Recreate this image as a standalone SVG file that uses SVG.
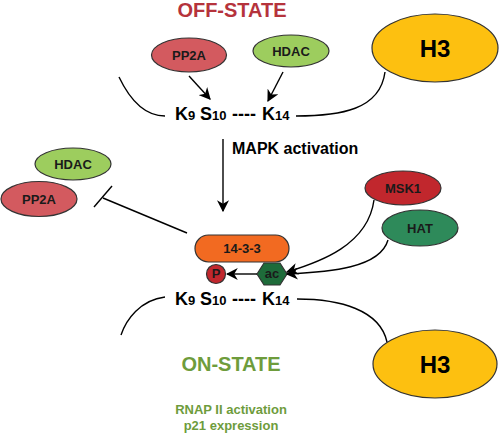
<svg xmlns="http://www.w3.org/2000/svg" width="500" height="436" viewBox="0 0 500 436">
<defs>
<marker id="ah2" viewBox="0 0 10 10" refX="9" refY="5" markerWidth="12" markerHeight="12" markerUnits="userSpaceOnUse" orient="auto">
<path d="M0,0 L10,5 L0,10 L3,5 Z" fill="#000"/>
</marker>
<style>
text{font-family:"Liberation Sans",Arial,sans-serif;font-weight:bold;}
.node{stroke:#333;stroke-width:1.2;}
.lbl{font-size:13px;fill:#1a1a1a;text-anchor:middle;}
.res{font-size:18px;fill:#000;}
.sub{font-size:13px;}
.line{fill:none;stroke:#000;stroke-width:1.4;}
</style>
</defs>
<rect width="500" height="436" fill="#fff"/>

<text x="232" y="17" font-size="20" fill="#b5333c" text-anchor="middle">OFF-STATE</text>

<g id="h3-top"><ellipse class="node" cx="435" cy="48" rx="63" ry="34" fill="#fdc010" stroke="#000"/><text x="435" y="57" font-size="24" text-anchor="middle" fill="#000">H3</text></g>
<g id="pp2a-top"><ellipse class="node" cx="189" cy="55" rx="37.5" ry="17" fill="#d35a5f"/><text class="lbl" x="189" y="60">PP2A</text></g>
<g id="hdac-top"><ellipse class="node" cx="291" cy="51" rx="38" ry="16" fill="#9dcd5e"/><text class="lbl" x="291" y="56">HDAC</text></g>

<g id="seq-top"><text class="res" y="120"><tspan x="175">K</tspan><tspan class="sub">9</tspan><tspan x="200">S</tspan><tspan class="sub">10</tspan><tspan x="232">----</tspan><tspan x="262">K</tspan><tspan class="sub">14</tspan></text></g>

<text x="232" y="154" font-size="16" fill="#000">MAPK activation</text>

<g id="hdac-left"><ellipse class="node" cx="73" cy="164" rx="38" ry="16" fill="#9dcd5e"/><text class="lbl" x="73" y="169">HDAC</text></g>
<g id="pp2a-left"><ellipse class="node" cx="39" cy="199" rx="38" ry="17.5" fill="#d35a5f"/><text class="lbl" x="39" y="204">PP2A</text></g>

<g id="msk1"><ellipse class="node" cx="403" cy="188" rx="38" ry="17" fill="#c1272d"/><text class="lbl" x="403" y="193">MSK1</text></g>
<g id="hat"><ellipse class="node" cx="420" cy="228" rx="38" ry="18" fill="#2e8a5a"/><text class="lbl" x="420" y="233">HAT</text></g>

<g id="c1433"><rect class="node" x="195" y="235" width="94" height="27" rx="13.5" fill="#f26a21"/><text class="lbl" x="242" y="253">14-3-3</text></g>
<g id="p"><circle class="node" cx="216" cy="274" r="9.5" fill="#c1272d"/><text class="lbl" x="216" y="278" font-size="10">P</text></g>
<g id="ac"><polygon class="node" points="257,274 264,263 280,263 287,274 280,285 264,285" fill="#1e6b3a"/><text class="lbl" x="272" y="278" font-size="11">ac</text></g>

<g id="seq-bottom"><text class="res" y="305"><tspan x="175">K</tspan><tspan class="sub">9</tspan><tspan x="200">S</tspan><tspan class="sub">10</tspan><tspan x="232">----</tspan><tspan x="262">K</tspan><tspan class="sub">14</tspan></text></g>

<g id="h3-bottom"><ellipse class="node" cx="435" cy="364" rx="62" ry="34" fill="#fdc010" stroke="#000"/><text x="435" y="373" font-size="24" text-anchor="middle" fill="#000">H3</text></g>

<text x="231" y="371" font-size="20" fill="#6e9c3c" text-anchor="middle">ON-STATE</text>
<text x="231" y="414" font-size="13" fill="#6e9c3c" text-anchor="middle">RNAP II activation</text>
<text x="231" y="430" font-size="13" fill="#6e9c3c" text-anchor="middle">p21 expression</text>

<g id="connectors">
<path class="line" d="M119,77 C130,100 145,116 165,116"/>
<path class="line" d="M296,116 C340,116 380,110 385,72"/>
<path class="line" d="M189,76 L210,99" marker-end="url(#ah2)"/>
<path class="line" d="M283,72 L268,101" marker-end="url(#ah2)"/>
<path class="line" d="M223,139 L223,211" marker-end="url(#ah2)"/>
<path class="line" d="M187,233 L103,198"/>
<path class="line" d="M94,207 L112,186"/>
<path class="line" d="M257,274 L227,274" marker-end="url(#ah2)"/>
<path class="line" d="M374,200 C368,245 320,262 287,272" marker-end="url(#ah2)"/>
<path class="line" d="M388,240 C380,268 330,272 287,274" marker-end="url(#ah2)"/>
<path class="line" d="M165,297 C140,300 126,320 121,335"/>
<path class="line" d="M297,299 C340,299 380,310 387,342"/>
</g>
</svg>
